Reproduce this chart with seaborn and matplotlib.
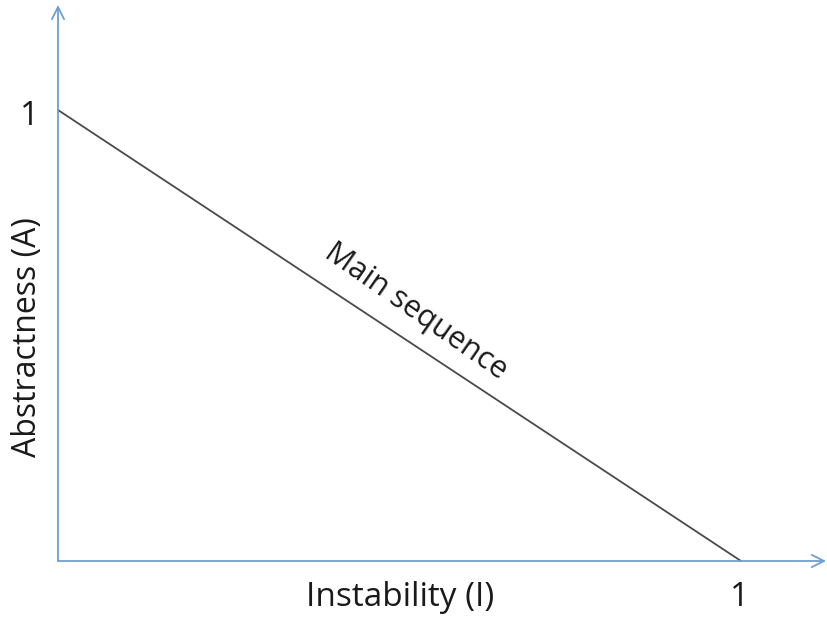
import matplotlib
matplotlib.use("Agg")
import matplotlib.pyplot as plt
import seaborn as sns
import pandas as pd

# main sequence: A + I = 1
instability = [0.0, 1.0]
abstractness = [1.0, 0.0]
x_label = "Instability (I)"
y_label = "Abstractness (A)"
line_label = "Main sequence"
tick_text = "1"

sns.set_theme(style="white")
plt.rcParams["font.family"] = ["Open Sans", "DejaVu Sans"]

W, H = 827, 619
fig = plt.figure(figsize=(W / 100, H / 100), dpi=100)
ax = fig.add_axes([0, 0, 1, 1])

# pixel positions of the axes origin and the "1" points
x0, x1 = 58, 741
y0, y1 = 561, 110
sx = x1 - x0
sy = y0 - y1
ax.set_xlim(-x0 / sx, (W - x0) / sx)
ax.set_ylim(-(H - y0) / sy, y0 / sy)
ax.axis("off")

df = pd.DataFrame({"I": instability, "A": abstractness})
sns.lineplot(data=df, x="I", y="A", ax=ax, color="#4a4a4a", linewidth=1.3)

axis_col = "#6f9fd0"
ax.annotate("", xy=((W - 1 - x0) / sx, 0), xytext=(0, 0),
            arrowprops=dict(arrowstyle="->", color=axis_col, lw=1.3,
                            shrinkA=0, shrinkB=0, mutation_scale=22))
ax.annotate("", xy=(0, (y0 - 5) / sy), xytext=(0, 0),
            arrowprops=dict(arrowstyle="->", color=axis_col, lw=1.3,
                            shrinkA=0, shrinkB=0, mutation_scale=22))

fs = 24
txt_col = "#1a1a1a"
ax.text((30 - x0) / sx, (y0 - 116) / sy, tick_text, fontsize=fs,
        ha="center", va="center", color=txt_col)
ax.text((740 - x0) / sx, (y0 - 598) / sy, tick_text, fontsize=fs,
        ha="center", va="center", color=txt_col)
ax.text((400 - x0) / sx, (y0 - 597) / sy, x_label, fontsize=fs,
        ha="center", va="center", color=txt_col)
ax.text((28 - x0) / sx, (y0 - 337) / sy, y_label, fontsize=23,
        ha="center", va="center", rotation=90, color=txt_col)
ax.text((416 - x0) / sx, (y0 - 312) / sy, line_label, fontsize=22,
        ha="center", va="center", rotation=-35, color=txt_col,
        rotation_mode="anchor")

fig.savefig("out.png", dpi=100)
